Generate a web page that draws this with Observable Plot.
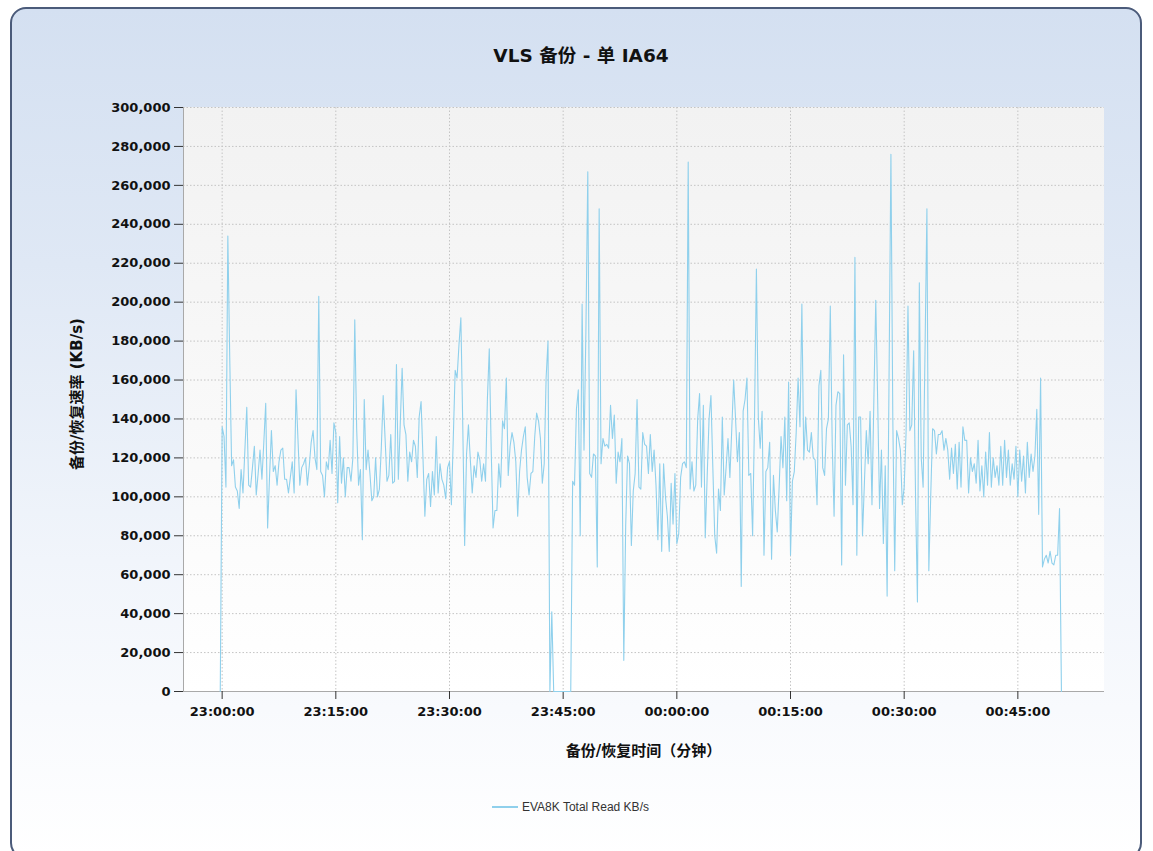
<!DOCTYPE html>
<html><head><meta charset="utf-8">
<script src="https://cdn.jsdelivr.net/npm/d3@7"></script>
<script src="https://cdn.jsdelivr.net/npm/@observablehq/plot@0.6"></script>
<style>
html,body{margin:0;padding:0;background:#fff;}
#page{position:relative;width:1153px;height:851px;overflow:hidden;font-family:"DejaVu Sans","Noto Sans CJK SC",sans-serif;}
#panel{position:absolute;left:10px;top:7px;width:1132px;height:852px;border:2px solid #4b5b7a;border-radius:16px;background:linear-gradient(#d4e0f1 0%,#dfe8f5 30%,#f1f5fb 65%,#ffffff 100%);box-sizing:border-box;}
#plotbg{position:absolute;left:183px;top:107px;width:921px;height:584px;background:linear-gradient(#f2f2f2,#ffffff);}
#chart{position:absolute;left:0;top:0;}
#title{position:absolute;top:41px;left:0;width:1162px;text-align:center;font-weight:bold;font-size:18.5px;color:#111;}
#ylab{position:absolute;left:75px;top:394px;transform:translate(-50%,-50%) rotate(-90deg);white-space:nowrap;font-weight:bold;font-size:15px;color:#111;}
#xlab{position:absolute;top:739px;left:183px;width:921px;text-align:center;font-weight:bold;font-size:15px;color:#111;}
#legend{position:absolute;top:800px;left:492px;font-family:"Liberation Sans",Arial,sans-serif;font-size:12px;color:#333;white-space:nowrap;}
#legend .sw{display:inline-block;width:26px;height:2px;background:#8fd0ec;vertical-align:middle;margin-right:4px;position:relative;top:-1px;}
</style>
</head><body>
<div id="page">
  <div id="panel"></div>
  <div id="plotbg"></div>
  <div id="chart"></div>
  <div id="title">VLS 备份 - 单 IA64</div>
  <div id="ylab">备份/恢复速率 (KB/s)</div>
  <div id="xlab">备份/恢复时间（分钟）</div>
  <div id="legend"><span class="sw"></span>EVA8K Total Read KB/s</div>
</div>
<script>
// Series: EVA8K Total Read, sampled every 15 s starting 22:59:45 (values in thousands of KB/s)
const seriesName = "EVA8K Total Read KB/s";
const startTime = Date.UTC(2000, 0, 1, 22, 59, 45);
const stepSeconds = 15;
const readThousandKBs = [
  0,136,131,105,234,172,116,119,105,103,94,114,102,124,146,106,105,115,126,101,
  112,124,109,128,148,84,110,134,113,116,106,118,124,125,109,109,102,110,118,102,
  155,130,106,115,117,120,106,116,128,134,120,114,203,113,111,100,118,114,129,112,
  138,133,97,131,107,120,100,115,115,108,120,191,135,106,114,78,150,114,124,112,
  98,100,120,100,104,125,152,130,108,111,132,107,108,168,109,137,166,137,132,108,
  123,118,129,126,110,141,149,120,90,109,112,95,113,101,131,102,117,109,106,99,
  115,118,96,130,165,161,178,192,137,75,122,137,119,102,116,110,123,119,108,117,
  108,150,176,125,84,93,93,117,105,139,135,161,111,126,133,128,118,90,113,124,
  131,136,110,101,112,113,131,143,139,130,107,117,161,180,0,41,0,0,0,0,
  0,0,0,0,0,0,108,106,145,155,80,199,124,185,267,112,110,122,121,64,
  248,117,130,126,127,125,147,130,142,107,123,118,130,16,85,121,117,75,103,112,
  150,105,104,133,127,126,112,132,113,124,106,78,117,72,117,100,90,72,107,86,
  112,76,81,110,117,118,115,272,104,118,103,106,140,153,105,147,79,110,140,152,
  115,80,71,104,93,141,101,115,130,110,135,160,140,118,133,54,144,150,161,111,
  112,80,140,217,141,125,144,70,113,115,128,68,111,93,82,105,131,115,141,98,
  159,70,108,113,133,161,136,199,119,141,124,123,133,120,119,96,157,165,115,111,
  135,140,198,128,90,147,154,153,65,173,106,137,138,126,96,223,70,141,141,80,
  107,134,117,144,96,150,201,150,94,124,76,116,49,160,276,140,62,134,130,124,
  96,105,133,198,134,137,175,100,46,210,120,105,175,248,62,100,135,134,122,132,
  132,134,124,130,124,109,125,112,127,104,128,105,136,129,129,102,120,113,117,107,
  129,103,116,100,123,106,133,105,120,110,116,106,126,106,129,110,124,106,117,109,
  126,100,124,108,121,102,128,110,122,113,121,145,91,161,64,68,70,66,72,66,
  65,70,70,94,0
];
const yTicks = d3.range(0, 300001, 20000);
const xTickTimes = [
  [0,23,0],[0,23,15],[0,23,30],[0,23,45],[1,0,0],[1,0,15],[1,0,30],[1,0,45]
];
const xDomainStart = [0,22,54,54];
const xDomainEnd = [1,0,56,26];

const toDate = ([d,h,m,s=0]) => new Date(Date.UTC(2000,0,1+d,h,m,s));
const xTicks = xTickTimes.map(toDate);
const data = readThousandKBs.map((v,i)=>({time:new Date(startTime + i*stepSeconds*1000), value:v*1000, series:seriesName}));
const x0 = toDate(xDomainStart), x1 = toDate(xDomainEnd);

const chart = Plot.plot({
  width: 1153, height: 780,
  marginLeft: 183, marginRight: 49, marginTop: 107, marginBottom: 89,
  style: {background:"transparent", fontFamily:"DejaVu Sans, Noto Sans CJK SC, sans-serif", fontSize:"13px", fontWeight:"bold", color:"#111", overflow:"visible"},
  x: {type:"utc", domain:[x0, x1]},
  y: {domain:[0, 300000]},
  marks: [
    Plot.gridY(yTicks.slice(1), {stroke:"#c4c4c4", strokeOpacity:1, strokeDasharray:"1.5,2"}),
    Plot.gridX(xTicks, {stroke:"#c4c4c4", strokeOpacity:1, strokeDasharray:"1.5,2"}),
    Plot.ruleY([0], {stroke:"#a9a9a9"}),
    Plot.ruleX([x0], {stroke:"#a9a9a9"}),
    Plot.axisY(yTicks, {tickFormat:d3.format(","), tickSize:9, tickPadding:4, stroke:"#333", label:null}),
    Plot.axisX(xTicks, {tickFormat:d3.utcFormat("%H:%M:%S"), tickSize:8, tickPadding:7, stroke:"#333", label:null}),
    Plot.lineY(data, {x:"time", y:"value", stroke:"#8fd0ec", strokeWidth:1.1})
  ]
});
document.getElementById("chart").appendChild(chart);
</script>
</body></html>
